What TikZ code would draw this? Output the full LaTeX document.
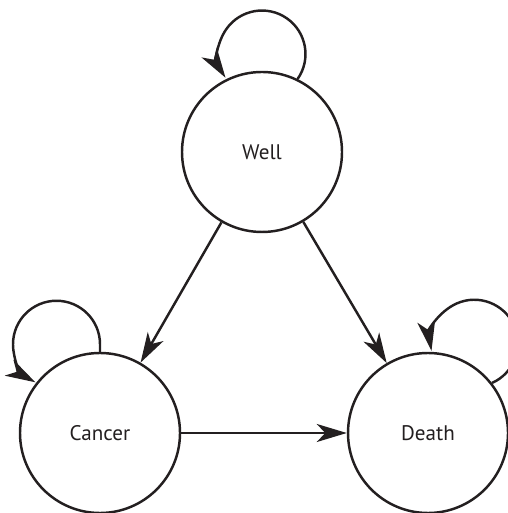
\documentclass[tikz,border=0pt]{standalone}
\usepackage{fontspec}
\setmainfont{PT Sans}
\usetikzlibrary{arrows.meta}
\definecolor{ink}{RGB}{35,31,32}
\begin{document}
\begin{tikzpicture}[
	  color=ink, line width=1.4pt,
	  state/.style={circle, draw, inner sep=0pt, minimum size=3.2cm, font=\fontsize{12}{14}\selectfont},
	  >={Stealth[length=0.6cm, width=0.36cm, inset=0.17cm]}
	]
	  \useasboundingbox (0,0) rectangle (10.14,10.26);
	  \node[state] (well) at (5.24,7.22) {Well};
	  \node[state] (cancer) at (2.00,1.60) {Cancer};
	  \node[state] (death) at (8.56,1.60) {Death};
	  
	  \draw[->] (well) -- (cancer);
	  \draw[->] (well) -- (death);
	  \draw[->] (cancer) -- (death);
	  
	  % loops
	  \draw[->] (well.64) arc[start angle=-35, end angle=213, radius=0.87];
	  \draw[->] (cancer.90) -- ++(0,0.15) arc[start angle=0, end angle=241, radius=0.87];
	  \draw[->] (death.38) arc[start angle=-66, end angle=190, radius=0.87];
	\end{tikzpicture}
\end{document}
